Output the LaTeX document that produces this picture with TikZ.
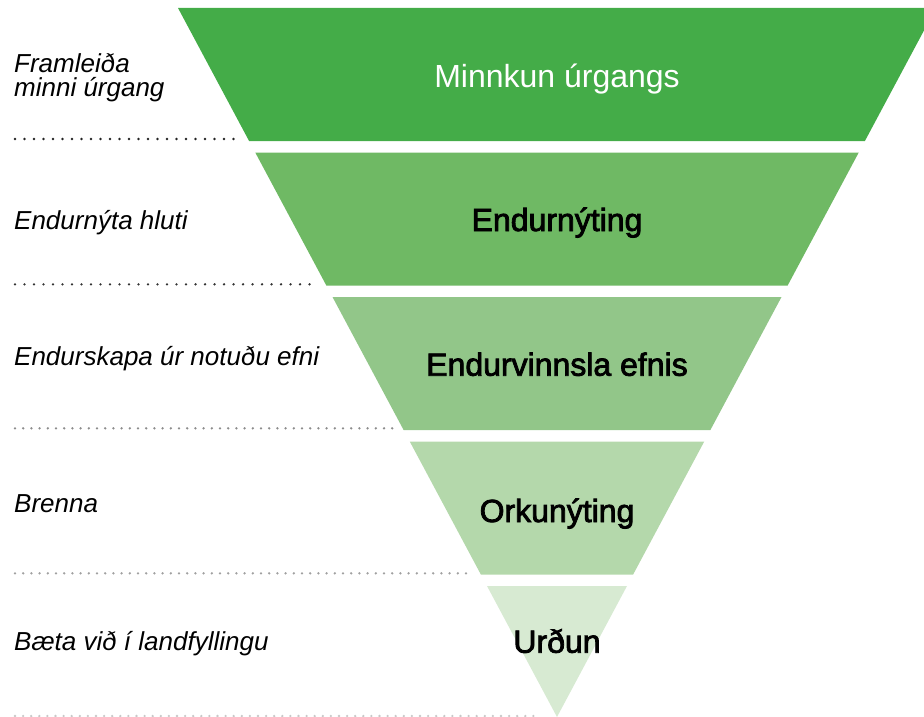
\documentclass[tikz,border=0pt]{standalone}
\usepackage{fontspec}
\setmainfont{Liberation Sans}
\newfontfamily\medfont[FakeBold=2.5]{Liberation Sans}
\definecolor{gA}{HTML}{44AC48}
\definecolor{gB}{HTML}{6FB964}
\definecolor{gC}{HTML}{92C689}
\definecolor{gD}{HTML}{B4D8AB}
\definecolor{gE}{HTML}{D7EAD2}
\definecolor{dotA}{HTML}{222222}
\definecolor{dotB}{HTML}{333333}
\definecolor{dotC}{HTML}{8C8C8C}
\definecolor{dotD}{HTML}{A0A0A0}
\definecolor{dotE}{HTML}{C8C8C8}
\tikzset{
  band/.style={draw=none},
  lvlabel/.style={anchor=base, inner sep=0pt, font=\medfont\fontsize{32}{36}\selectfont, text=black},
  sidelabel/.style={anchor=base west, inner sep=0pt, align=left, font=\itshape\fontsize{26}{24}\selectfont, text=black},
  dotline/.style={line width=2.6pt, line cap=round, dash pattern=on 0pt off 9.5pt}
}
\begin{document}
\begin{tikzpicture}[x=1pt,y=-1pt]
\useasboundingbox (0,0) rectangle (924,717);
\clip (0,0) rectangle (924,717);
% bands (centre x = 557)
\fill[gA,band] (178,8) -- (936,8) -- (864.9,141) -- (249.1,141) -- cycle;
\fill[gB,band] (255.25,152.5) -- (858.75,152.5) -- (787.65,285.5) -- (326.35,285.5) -- cycle;
\fill[gC,band] (332.5,297) -- (781.5,297) -- (710.4,430) -- (403.6,430) -- cycle;
\fill[gD,band] (409.75,441.5) -- (704.25,441.5) -- (633.15,574.5) -- (480.85,574.5) -- cycle;
\fill[gE,band] (487,586) -- (627,586) -- (557,717) -- cycle;
% level labels
\node[lvlabel, text=white, font=\fontsize{32}{36}\selectfont] (l1) at (557,87.3) {Minnkun úrgangs};
\node[lvlabel] (l2) at (557,231) {Endurnýting};
\node[lvlabel] (l3) at (557,375.7) {Endurvinnsla efnis};
\node[lvlabel] (l4) at (557,522) {Orkunýting};
\node[lvlabel] (l5) at (557,652.7) {Urðun};
% side labels
\node[sidelabel] (s1) at (14,96.7) {Framleiða\\minni úrgang};
\node[sidelabel] (s2) at (14,229) {Endurnýta hluti};
\node[sidelabel] (s3) at (14,365) {Endurskapa úr notuðu efni};
\node[sidelabel] (s4) at (14,512.3) {Brenna};
\node[sidelabel] (s5) at (14,650) {Bæta við í landfyllingu};
% dotted separators
\coordinate (d1a) at (15,139); \coordinate (d1b) at (234,139);
\coordinate (d2a) at (15,284.3); \coordinate (d2b) at (315,284.3);
\coordinate (d3a) at (15,428.3); \coordinate (d3b) at (393,428.3);
\coordinate (d4a) at (15,573.3); \coordinate (d4b) at (466,573.3);
\coordinate (d5a) at (15,716); \coordinate (d5b) at (541,716);
\draw[dotline, dotA] (d1a) -- (d1b);
\draw[dotline, dotB] (d2a) -- (d2b);
\draw[dotline, dotC, dash pattern=on 0pt off 8.2pt] (d3a) -- (d3b);
\draw[dotline, dotD, dash pattern=on 0pt off 8.2pt] (d4a) -- (d4b);
\draw[dotline, dotE, dash pattern=on 0pt off 8.1pt] (d5a) -- (d5b);
\end{tikzpicture}
\end{document}
